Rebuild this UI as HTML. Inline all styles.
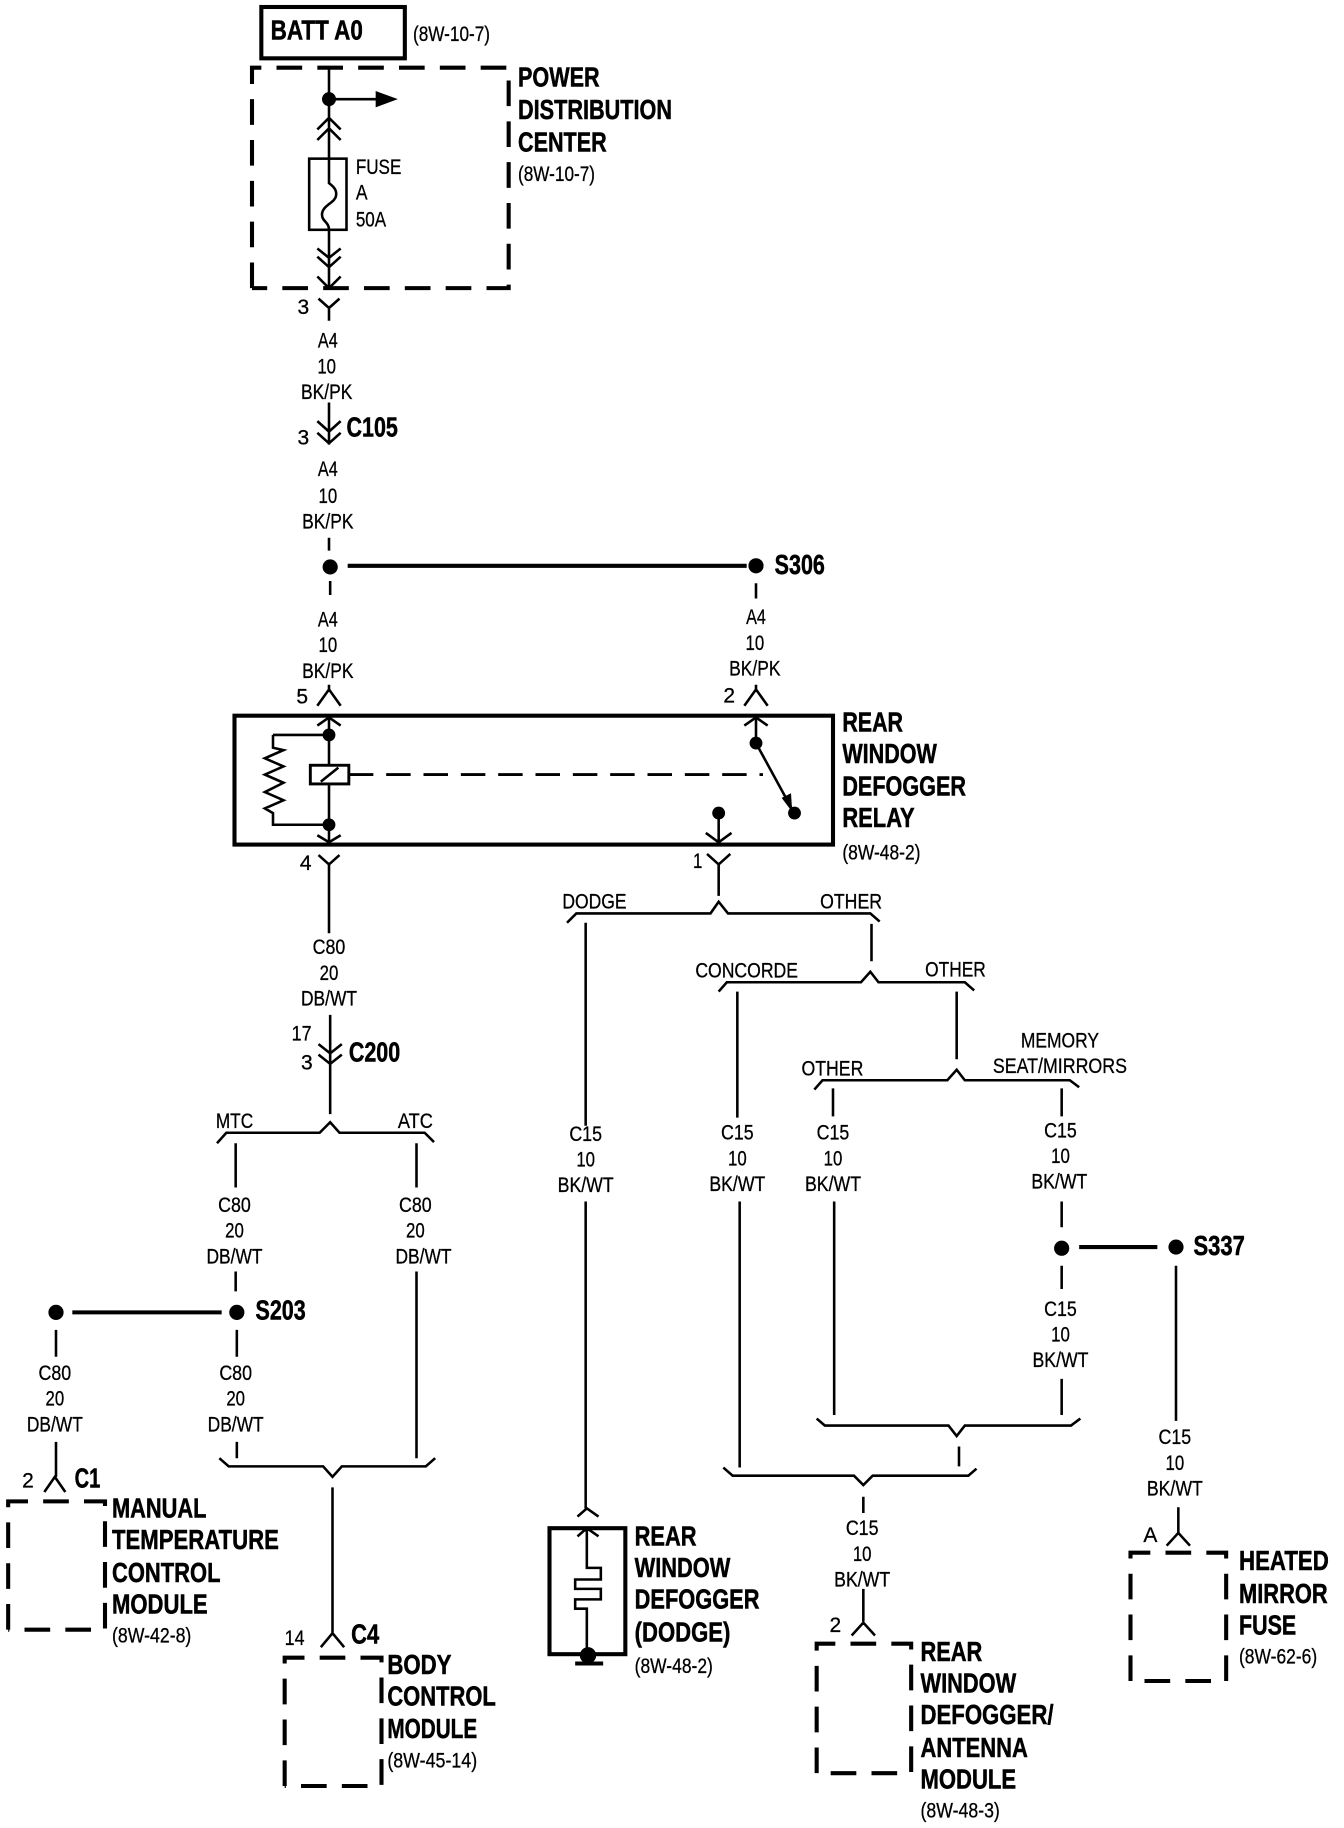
<!DOCTYPE html>
<html><head><meta charset="utf-8"><title>Rear window defogger wiring diagram</title>
<style>
html,body{margin:0;padding:0;background:#fff}
svg{display:block}
text{font-family:"Liberation Sans",sans-serif;fill:#000}
.b{font-size:24px;font-weight:bold;stroke:#000;stroke-width:.45px}
.s{font-size:18px;stroke:#000;stroke-width:.25px}
.c{font-size:18px;text-anchor:middle;stroke:#000;stroke-width:.25px}
</style></head><body>
<svg xmlns="http://www.w3.org/2000/svg" width="1344" height="1828" viewBox="0 0 1152 1567" preserveAspectRatio="none">
<rect width="1152" height="1567" fill="#fff"/>
<g fill="none" stroke="#000">
<!-- boxes -->
<rect x="224" y="6" width="123" height="44" stroke-width="3.5"/>
<rect x="201" y="613.5" width="513" height="110.5" stroke-width="3.5"/>
<rect x="471" y="1310" width="65" height="108" stroke-width="3.5"/>
<g stroke-width="3.5" stroke-dasharray="22 13">
<path d="M216 247V58H436V247H216"/>
<path d="M7 1397V1287H90V1397H7"/>
<path d="M244 1531V1421H327V1531H244"/>
<path d="M700 1520V1409H781V1520H700"/>
<path d="M969 1441V1331H1051V1441H969"/>
</g>
<path d="M299 664H654" stroke-width="2.5" stroke-dasharray="21 11"/>
<!-- thick links -->
<path d="M298 485H640M62 1125H190M925 1069H992" stroke-width="3.5"/>
<path d="M493 1426H517" stroke-width="3.5"/>
<!-- thin wires and connectors -->
<path stroke-width="2.2" d="
M282 58V137M282 197V247M282 85H326
M272 111L282 101L292 111M272 120L282 110L292 120
M272 213L282 221L292 213M272 220L282 229L292 220M272 237L282 247L292 237
M273 256L282 264L291 256M282 264V275
M282 345V381M272 361L282 370L292 361M272 371L282 380L292 371
M282 461V472M283 498V510M648 500V513
M272 605L282 591L292 605M282 587V591
M638 605L648 591L658 605M648 587V591
M272 622L282 615L292 622M282 614V656M282 672V722
M638 622L648 615L658 622M648 614V637
M272 716L282 722L292 716
M234 630H282M234 630V641L243 643L227 650L243 657L227 664L243 671L227 679L243 686L227 693L234 697V707H282
M275 670L290 658
M648 637L678 692
M616 697V722M605 714L616 722L627 714
M273 733L282 741L291 733M282 741V800
M606 732L616 741L626 732M616 741V768
M486 791L494 783H609L616 773L624 783H746L754 790
M502 791V965M502 1030V1293
M747 792V824
M616 850L623 842H738L746 833L753 842H827L835 849
M632 850V958M634 1030V1258
M820 850V908
M698 934L705 926H812L820 917L827 926H917L925 932
M714 933V957M910 933V957M715 1030V1213M910 1030V1052M910 1085V1105M910 1182V1213
M1008 1085V1218
M700 1216L707 1222H813L820 1231L827 1222H918L926 1216
M822 1240V1257
M620 1258L628 1265H732L740 1273L748 1265H830L837 1259
M740 1283V1297M740 1362V1390M730 1402L740 1391L750 1402
M1010 1292V1314M1000 1325L1010 1314L1020 1325
M283 870V955M273 895L283 903L293 895M273 904L283 912L293 904
M186 980L194 971H274L283 962L291 971H364L372 979
M202 980V1018M202 1090V1107M203 1140V1163M203 1236V1250
M357 980V1018M357 1090V1250
M48 1140V1163M48 1236V1266M38 1279L47 1266L56 1279
M188 1250L196 1257H277L285 1266L293 1257H365L373 1250
M285 1275V1400M275 1412L285 1400L295 1412
M495 1300L503 1293L513 1300M495 1317L503 1310L513 1317
M503 1310V1344H515V1354H493V1362H515V1371H493V1379H503V1414
"/>
<!-- fuse -->
<rect x="265" y="136" width="32" height="61" stroke-width="2.2"/>
<path stroke-width="2.2" d="M282 137V157C286 160 289 163 288 168C287 174 276 176 276 184C276 190 282 190 282 197"/>
<!-- coil -->
<rect x="266" y="656" width="33" height="16" stroke-width="2.5"/>
</g>
<!-- dots and heads -->
<g fill="#000">
<circle cx="282" cy="85" r="6"/>
<path d="M322 78L341 85L322 92Z"/>
<circle cx="283" cy="486" r="6.5"/>
<circle cx="648" cy="485" r="6.5"/>
<circle cx="282" cy="630" r="5.5"/>
<circle cx="282" cy="707" r="5.5"/>
<circle cx="648" cy="637" r="5.5"/>
<circle cx="681" cy="697" r="5.5"/>
<circle cx="616" cy="697" r="5.5"/>
<path d="M670 684L678 680L679 696Z"/>
<circle cx="203" cy="1125" r="6.5"/>
<circle cx="48" cy="1125" r="6.5"/>
<circle cx="910" cy="1070" r="6.5"/>
<circle cx="1008" cy="1069" r="6.5"/>
<circle cx="504" cy="1419" r="7"/>
</g>
<g transform="translate(-1,-1)">
<!-- bold labels -->
<g class="b">
<text x="233" y="35" textLength="79" lengthAdjust="spacingAndGlyphs">BATT A0</text>
<text x="445" y="75" textLength="70" lengthAdjust="spacingAndGlyphs">POWER</text>
<text x="445" y="103" textLength="132" lengthAdjust="spacingAndGlyphs">DISTRIBUTION</text>
<text x="445" y="131" textLength="76" lengthAdjust="spacingAndGlyphs">CENTER</text>
<text x="298" y="375" textLength="44" lengthAdjust="spacingAndGlyphs">C105</text>
<text x="665" y="493" textLength="43" lengthAdjust="spacingAndGlyphs">S306</text>
<text x="723" y="628" textLength="52" lengthAdjust="spacingAndGlyphs">REAR</text>
<text x="723" y="655" textLength="81" lengthAdjust="spacingAndGlyphs">WINDOW</text>
<text x="723" y="683" textLength="106" lengthAdjust="spacingAndGlyphs">DEFOGGER</text>
<text x="723" y="710" textLength="62" lengthAdjust="spacingAndGlyphs">RELAY</text>
<text x="300" y="911" textLength="44" lengthAdjust="spacingAndGlyphs">C200</text>
<text x="220" y="1132" textLength="43" lengthAdjust="spacingAndGlyphs">S203</text>
<text x="1024" y="1077" textLength="44" lengthAdjust="spacingAndGlyphs">S337</text>
<text x="65" y="1276" textLength="22" lengthAdjust="spacingAndGlyphs">C1</text>
<text x="302" y="1410" textLength="24" lengthAdjust="spacingAndGlyphs">C4</text>
<text x="97" y="1302" textLength="81" lengthAdjust="spacingAndGlyphs">MANUAL</text>
<text x="97" y="1329" textLength="143" lengthAdjust="spacingAndGlyphs">TEMPERATURE</text>
<text x="97" y="1357" textLength="93" lengthAdjust="spacingAndGlyphs">CONTROL</text>
<text x="97" y="1384" textLength="82" lengthAdjust="spacingAndGlyphs">MODULE</text>
<text x="333" y="1436" textLength="55" lengthAdjust="spacingAndGlyphs">BODY</text>
<text x="333" y="1463" textLength="93" lengthAdjust="spacingAndGlyphs">CONTROL</text>
<text x="333" y="1491" textLength="77" lengthAdjust="spacingAndGlyphs">MODULE</text>
<text x="545" y="1326" textLength="53" lengthAdjust="spacingAndGlyphs">REAR</text>
<text x="545" y="1353" textLength="82" lengthAdjust="spacingAndGlyphs">WINDOW</text>
<text x="545" y="1380" textLength="107" lengthAdjust="spacingAndGlyphs">DEFOGGER</text>
<text x="545" y="1408" textLength="82" lengthAdjust="spacingAndGlyphs">(DODGE)</text>
<text x="790" y="1425" textLength="53" lengthAdjust="spacingAndGlyphs">REAR</text>
<text x="790" y="1452" textLength="82" lengthAdjust="spacingAndGlyphs">WINDOW</text>
<text x="790" y="1479" textLength="114" lengthAdjust="spacingAndGlyphs">DEFOGGER/</text>
<text x="790" y="1507" textLength="92" lengthAdjust="spacingAndGlyphs">ANTENNA</text>
<text x="790" y="1534" textLength="82" lengthAdjust="spacingAndGlyphs">MODULE</text>
<text x="1063" y="1347" textLength="77" lengthAdjust="spacingAndGlyphs">HEATED</text>
<text x="1063" y="1375" textLength="76" lengthAdjust="spacingAndGlyphs">MIRROR</text>
<text x="1063" y="1402" textLength="49" lengthAdjust="spacingAndGlyphs">FUSE</text>
</g>
<!-- regular labels -->
<g class="s">
<text x="355" y="36" textLength="66" lengthAdjust="spacingAndGlyphs">(8W-10-7)</text>
<text x="445" y="156" textLength="66" lengthAdjust="spacingAndGlyphs">(8W-10-7)</text>
<text x="306" y="150" textLength="39" lengthAdjust="spacingAndGlyphs">FUSE</text>
<text x="306" y="172" textLength="10" lengthAdjust="spacingAndGlyphs">A</text>
<text x="306" y="195" textLength="26" lengthAdjust="spacingAndGlyphs">50A</text>
<text x="256" y="270" textLength="10" lengthAdjust="spacingAndGlyphs">3</text>
<text x="256" y="382" textLength="10" lengthAdjust="spacingAndGlyphs">3</text>
<text x="255" y="604" textLength="10" lengthAdjust="spacingAndGlyphs">5</text>
<text x="621" y="603" textLength="10" lengthAdjust="spacingAndGlyphs">2</text>
<text x="258" y="747" textLength="10" lengthAdjust="spacingAndGlyphs">4</text>
<text x="595" y="745" textLength="8" lengthAdjust="spacingAndGlyphs">1</text>
<text x="723" y="738" textLength="67" lengthAdjust="spacingAndGlyphs">(8W-48-2)</text>
<text x="483" y="780" textLength="55" lengthAdjust="spacingAndGlyphs">DODGE</text>
<text x="704" y="780" textLength="53" lengthAdjust="spacingAndGlyphs">OTHER</text>
<text x="597" y="839" textLength="88" lengthAdjust="spacingAndGlyphs">CONCORDE</text>
<text x="794" y="838" textLength="52" lengthAdjust="spacingAndGlyphs">OTHER</text>
<text x="688" y="923" textLength="53" lengthAdjust="spacingAndGlyphs">OTHER</text>
<text x="876" y="899" textLength="67" lengthAdjust="spacingAndGlyphs">MEMORY</text>
<text x="852" y="921" textLength="115" lengthAdjust="spacingAndGlyphs">SEAT/MIRRORS</text>
<text x="251" y="893" textLength="17" lengthAdjust="spacingAndGlyphs">17</text>
<text x="259" y="918" textLength="10" lengthAdjust="spacingAndGlyphs">3</text>
<text x="186" y="968" textLength="32" lengthAdjust="spacingAndGlyphs">MTC</text>
<text x="342" y="968" textLength="30" lengthAdjust="spacingAndGlyphs">ATC</text>
<text x="20" y="1276" textLength="10" lengthAdjust="spacingAndGlyphs">2</text>
<text x="245" y="1411" textLength="17" lengthAdjust="spacingAndGlyphs">14</text>
<text x="712" y="1400" textLength="10" lengthAdjust="spacingAndGlyphs">2</text>
<text x="981" y="1323" textLength="12" lengthAdjust="spacingAndGlyphs">A</text>
<text x="97" y="1409" textLength="68" lengthAdjust="spacingAndGlyphs">(8W-42-8)</text>
<text x="333" y="1516" textLength="77" lengthAdjust="spacingAndGlyphs">(8W-45-14)</text>
<text x="545" y="1435" textLength="67" lengthAdjust="spacingAndGlyphs">(8W-48-2)</text>
<text x="790" y="1559" textLength="68" lengthAdjust="spacingAndGlyphs">(8W-48-3)</text>
<text x="1063" y="1427" textLength="67" lengthAdjust="spacingAndGlyphs">(8W-62-6)</text>
</g>
<!-- wire labels -->
<g class="c">
<text x="282" y="299" textLength="17" lengthAdjust="spacingAndGlyphs">A4</text><text x="281" y="321" textLength="16" lengthAdjust="spacingAndGlyphs">10</text><text x="281" y="343" textLength="44" lengthAdjust="spacingAndGlyphs">BK/PK</text>
<text x="282" y="409" textLength="17" lengthAdjust="spacingAndGlyphs">A4</text><text x="282" y="432" textLength="16" lengthAdjust="spacingAndGlyphs">10</text><text x="282" y="454" textLength="44" lengthAdjust="spacingAndGlyphs">BK/PK</text>
<text x="282" y="538" textLength="17" lengthAdjust="spacingAndGlyphs">A4</text><text x="282" y="560" textLength="16" lengthAdjust="spacingAndGlyphs">10</text><text x="282" y="582" textLength="44" lengthAdjust="spacingAndGlyphs">BK/PK</text>
<text x="649" y="536" textLength="17" lengthAdjust="spacingAndGlyphs">A4</text><text x="648" y="558" textLength="16" lengthAdjust="spacingAndGlyphs">10</text><text x="648" y="580" textLength="44" lengthAdjust="spacingAndGlyphs">BK/PK</text>
<text x="283" y="819" textLength="28" lengthAdjust="spacingAndGlyphs">C80</text><text x="283" y="841" textLength="16" lengthAdjust="spacingAndGlyphs">20</text><text x="283" y="863" textLength="48" lengthAdjust="spacingAndGlyphs">DB/WT</text>
<text x="202" y="1040" textLength="28" lengthAdjust="spacingAndGlyphs">C80</text><text x="202" y="1062" textLength="16" lengthAdjust="spacingAndGlyphs">20</text><text x="202" y="1084" textLength="48" lengthAdjust="spacingAndGlyphs">DB/WT</text>
<text x="357" y="1040" textLength="28" lengthAdjust="spacingAndGlyphs">C80</text><text x="357" y="1062" textLength="16" lengthAdjust="spacingAndGlyphs">20</text><text x="364" y="1084" textLength="48" lengthAdjust="spacingAndGlyphs">DB/WT</text>
<text x="203" y="1184" textLength="28" lengthAdjust="spacingAndGlyphs">C80</text><text x="203" y="1206" textLength="16" lengthAdjust="spacingAndGlyphs">20</text><text x="203" y="1228" textLength="48" lengthAdjust="spacingAndGlyphs">DB/WT</text>
<text x="48" y="1184" textLength="28" lengthAdjust="spacingAndGlyphs">C80</text><text x="48" y="1206" textLength="16" lengthAdjust="spacingAndGlyphs">20</text><text x="48" y="1228" textLength="48" lengthAdjust="spacingAndGlyphs">DB/WT</text>
<text x="503" y="979" textLength="28" lengthAdjust="spacingAndGlyphs">C15</text><text x="503" y="1001" textLength="16" lengthAdjust="spacingAndGlyphs">10</text><text x="503" y="1023" textLength="48" lengthAdjust="spacingAndGlyphs">BK/WT</text>
<text x="633" y="978" textLength="28" lengthAdjust="spacingAndGlyphs">C15</text><text x="633" y="1000" textLength="16" lengthAdjust="spacingAndGlyphs">10</text><text x="633" y="1022" textLength="48" lengthAdjust="spacingAndGlyphs">BK/WT</text>
<text x="715" y="978" textLength="28" lengthAdjust="spacingAndGlyphs">C15</text><text x="715" y="1000" textLength="16" lengthAdjust="spacingAndGlyphs">10</text><text x="715" y="1022" textLength="48" lengthAdjust="spacingAndGlyphs">BK/WT</text>
<text x="910" y="976" textLength="28" lengthAdjust="spacingAndGlyphs">C15</text><text x="910" y="998" textLength="16" lengthAdjust="spacingAndGlyphs">10</text><text x="909" y="1020" textLength="48" lengthAdjust="spacingAndGlyphs">BK/WT</text>
<text x="910" y="1129" textLength="28" lengthAdjust="spacingAndGlyphs">C15</text><text x="910" y="1151" textLength="16" lengthAdjust="spacingAndGlyphs">10</text><text x="910" y="1173" textLength="48" lengthAdjust="spacingAndGlyphs">BK/WT</text>
<text x="1008" y="1239" textLength="28" lengthAdjust="spacingAndGlyphs">C15</text><text x="1008" y="1261" textLength="16" lengthAdjust="spacingAndGlyphs">10</text><text x="1008" y="1283" textLength="48" lengthAdjust="spacingAndGlyphs">BK/WT</text>
<text x="740" y="1317" textLength="28" lengthAdjust="spacingAndGlyphs">C15</text><text x="740" y="1339" textLength="16" lengthAdjust="spacingAndGlyphs">10</text><text x="740" y="1361" textLength="48" lengthAdjust="spacingAndGlyphs">BK/WT</text>
</g>
</g>
</svg>
</body></html>
